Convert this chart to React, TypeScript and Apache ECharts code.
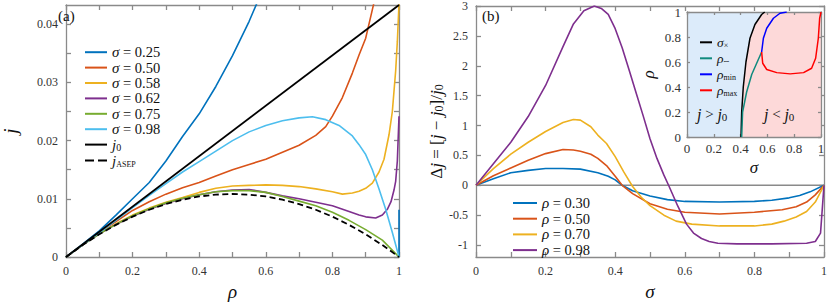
import React, { useEffect, useRef } from 'react';
import * as echarts from 'echarts';

// ---------- Panel (a): j vs rho ----------
const jMax = 0.0433;
const j0Line = [[0, 0], [1, 0.0433]];
const jAsep = [[0, 0], [0.05, 0.00206], [0.1, 0.0039], [0.15, 0.00552], [0.2, 0.00693], [0.25, 0.00812], [0.3, 0.0091], [0.35, 0.00985], [0.4, 0.0104], [0.45, 0.01072], [0.5, 0.01083], [0.55, 0.01072], [0.6, 0.0104], [0.65, 0.00985], [0.7, 0.0091], [0.75, 0.00812], [0.8, 0.00693], [0.85, 0.00552], [0.9, 0.0039], [0.95, 0.00206], [1, 0]];
const sig025 = [[0, 0], [0.05, 0.0022], [0.1, 0.0045], [0.15, 0.0072], [0.2, 0.0100], [0.25, 0.0128], [0.3, 0.0165], [0.35, 0.0207], [0.4, 0.0246], [0.45, 0.0293], [0.5, 0.0346], [0.55, 0.0405], [0.58, 0.0445], [0.6, 0.0475], '-', [1, 0.0081], [1, 0]];
const sig050 = [[0, 0], [0.05, 0.0021], [0.1, 0.0042], [0.15, 0.0061], [0.2, 0.0080], [0.25, 0.0095], [0.3, 0.0108], [0.35, 0.0119], [0.4, 0.0128], [0.45, 0.0139], [0.5, 0.0150], [0.55, 0.0159], [0.6, 0.0168], [0.65, 0.0180], [0.7, 0.0192], [0.75, 0.0209], [0.78, 0.0224], [0.8, 0.0242], [0.83, 0.0274], [0.86, 0.0316], [0.88, 0.0347], [0.9, 0.0376], [0.92, 0.0425], [0.93, 0.0450]];
const sig058 = [[0, 0], [0.05, 0.0021], [0.1, 0.0040], [0.15, 0.0057], [0.2, 0.0072], [0.25, 0.0084], [0.3, 0.0094], [0.35, 0.0102], [0.4, 0.0111], [0.45, 0.0118], [0.5, 0.0122], [0.55, 0.0123], [0.6, 0.0124], [0.65, 0.0123], [0.7, 0.0121], [0.75, 0.0117], [0.8, 0.0112], [0.83, 0.0108], [0.86, 0.0110], [0.88, 0.0113], [0.9, 0.0118], [0.92, 0.0127], [0.94, 0.0146], [0.955, 0.0168], [0.97, 0.0210], [0.98, 0.0250], [0.99, 0.0320], [0.995, 0.0370], [1, 0.0435]];
const sig062 = [[0, 0], [0.05, 0.0021], [0.1, 0.0040], [0.15, 0.0056], [0.2, 0.0070], [0.25, 0.0082], [0.3, 0.0092], [0.35, 0.0100], [0.4, 0.0107], [0.45, 0.0112], [0.5, 0.0115], [0.55, 0.0116], [0.6, 0.0111], [0.65, 0.0105], [0.7, 0.0100], [0.75, 0.0094], [0.8, 0.0088], [0.85, 0.0078], [0.88, 0.0072], [0.9, 0.0069], [0.93, 0.0067], [0.95, 0.0072], [0.965, 0.0082], [0.976, 0.0095], [0.985, 0.0115], [0.99, 0.0130], [0.995, 0.0165], [1, 0.0242]];
const sig075 = [[0, 0], [0.05, 0.0021], [0.1, 0.0040], [0.15, 0.0056], [0.2, 0.0071], [0.25, 0.0083], [0.3, 0.0093], [0.35, 0.0101], [0.4, 0.0107], [0.45, 0.0112], [0.5, 0.0114], [0.55, 0.0114], [0.6, 0.0111], [0.65, 0.0104], [0.7, 0.0096], [0.75, 0.0088], [0.8, 0.0077], [0.85, 0.0063], [0.9, 0.0047], [0.95, 0.0029], [1, 0]];
const sig098 = [[0, 0], [0.05, 0.0021], [0.1, 0.0042], [0.15, 0.0063], [0.2, 0.0085], [0.25, 0.0106], [0.3, 0.0126], [0.35, 0.0146], [0.4, 0.0164], [0.45, 0.0182], [0.5, 0.0200], [0.55, 0.0215], [0.6, 0.0226], [0.65, 0.0234], [0.7, 0.0239], [0.74, 0.0241], [0.78, 0.0236], [0.82, 0.0226], [0.86, 0.0208], [0.88, 0.0193], [0.9, 0.0176], [0.92, 0.0150], [0.94, 0.0117], [0.96, 0.0082], [0.98, 0.0042], [1, 0]];

// ---------- Panel (b): Delta j vs sigma ----------
const zeroLine = [[0, 0], [1, 0]];
const rho030 = [[0, 0], [0.05, 0.11], [0.1, 0.21], [0.15, 0.25], [0.2, 0.28], [0.25, 0.28], [0.3, 0.27], [0.35, 0.21], [0.38, 0.15], [0.4, 0.09], [0.42, 0.0], [0.45, -0.09], [0.5, -0.18], [0.55, -0.24], [0.6, -0.27], [0.7, -0.28], [0.8, -0.27], [0.85, -0.25], [0.9, -0.21], [0.93, -0.17], [0.96, -0.11], [1, 0]];
const rho050 = [[0, 0], [0.05, 0.16], [0.1, 0.29], [0.15, 0.42], [0.2, 0.53], [0.25, 0.60], [0.28, 0.59], [0.3, 0.57], [0.33, 0.52], [0.35, 0.45], [0.375, 0.33], [0.4, 0.15], [0.42, 0.0], [0.45, -0.14], [0.5, -0.31], [0.55, -0.40], [0.6, -0.45], [0.7, -0.48], [0.8, -0.45], [0.88, -0.41], [0.92, -0.36], [0.95, -0.28], [0.975, -0.16], [1, 0]];
const rho070 = [[0, 0], [0.05, 0.28], [0.1, 0.52], [0.15, 0.72], [0.2, 0.90], [0.25, 1.05], [0.28, 1.10], [0.3, 1.09], [0.33, 0.98], [0.35, 0.84], [0.375, 0.70], [0.4, 0.48], [0.425, 0.22], [0.45, -0.02], [0.475, -0.20], [0.5, -0.34], [0.54, -0.50], [0.575, -0.60], [0.62, -0.65], [0.7, -0.68], [0.8, -0.68], [0.85, -0.65], [0.885, -0.60], [0.92, -0.53], [0.95, -0.44], [0.975, -0.28], [1, 0]];
const rho098 = [[0, 0], [0.05, 0.36], [0.1, 0.72], [0.15, 1.15], [0.2, 1.67], [0.25, 2.32], [0.28, 2.70], [0.31, 2.92], [0.34, 3.0], [0.36, 2.96], [0.38, 2.86], [0.4, 2.62], [0.42, 2.30], [0.44, 1.93], [0.46, 1.55], [0.48, 1.17], [0.5, 0.78], [0.52, 0.45], [0.54, 0.17], [0.555, -0.02], [0.58, -0.35], [0.605, -0.65], [0.625, -0.80], [0.648, -0.89], [0.67, -0.94], [0.695, -0.97], [0.75, -0.98], [0.85, -0.98], [0.95, -0.97], [0.975, -0.94], [0.99, -0.80], [1, 0]];

// ---------- Inset: phase diagram ----------
const crossover = [[0.403, 0], [0.408, 0.2], [0.42, 0.4], [0.44, 0.6], [0.47, 0.79], [0.507, 0.9], [0.557, 0.98], [0.58, 1]];
const rhoTilde = [[0.408, 0], [0.415, 0.2], [0.445, 0.36], [0.483, 0.5], [0.52, 0.59], [0.557, 0.68]];
const rhoMin = [[0.557, 0.68], [0.57, 0.79], [0.595, 0.87], [0.645, 0.95], [0.694, 0.99], [0.744, 1.0]];
const rhoMaxCurve = [[0.557, 0.68], [0.565, 0.59], [0.595, 0.54], [0.67, 0.515], [0.77, 0.505], [0.87, 0.515], [0.93, 0.55], [0.96, 0.63], [0.98, 0.79], [0.99, 0.95], [1.0, 1.0]];

const ticks01 = [0, 0.1, 0.2, 0.3, 0.4, 0.5, 0.6, 0.7, 0.8, 0.9, 1];
const labels01 = [0, 0.2, 0.4, 0.6, 0.8, 1];
const jTicks = [0, 0.005, 0.01, 0.015, 0.02, 0.025, 0.03, 0.035, 0.04];
const jLabels = [0, 0.01, 0.02, 0.03, 0.04];
const dTicks = [-1, -0.5, 0, 0.5, 1, 1.5, 2, 2.5, 3];
const insetTicks = [0, 0.2, 0.4, 0.6, 0.8, 1];

const C = ['#0072BD', '#D95319', '#EDB120', '#7E2F8E', '#77AC30', '#4DBEEE'];
const SERIF = 'Liberation Serif';
const AX = { color: '#8a8a8a', width: 1.3 };
const LBL = { color: '#333', fontFamily: SERIF, fontSize: 12 };
const DASH_ICON = 'path://M0 0h9v2H0z M13 0h9v2h-9z';

function rich(lh: number, big: number, sub: number) {
  return {
    i: { fontFamily: SERIF, fontStyle: 'italic', fontSize: big + 0.5, color: '#111', lineHeight: lh },
    n: { fontFamily: SERIF, fontSize: big, color: '#111', lineHeight: lh },
    s: { fontFamily: SERIF, fontSize: sub, color: '#111', lineHeight: sub, verticalAlign: 'bottom' },
    sc: { fontFamily: SERIF, fontSize: sub - 2, color: '#111', lineHeight: sub - 2, verticalAlign: 'bottom' },
  };
}

const legendNames: Record<string, string> = {
  'σ = 0.25': '{i|σ}{n| = 0.25}',
  'σ = 0.50': '{i|σ}{n| = 0.50}',
  'σ = 0.58': '{i|σ}{n| = 0.58}',
  'σ = 0.62': '{i|σ}{n| = 0.62}',
  'σ = 0.75': '{i|σ}{n| = 0.75}',
  'σ = 0.98': '{i|σ}{n| = 0.98}',
  'j0': '{i|j}{s|0}',
  'jASEP': '{i|j}{sc|ASEP}',
  'ρ = 0.30': '{i|ρ}{n| = 0.30}',
  'ρ = 0.50': '{i|ρ}{n| = 0.50}',
  'ρ = 0.70': '{i|ρ}{n| = 0.70}',
  'ρ = 0.98': '{i|ρ}{n| = 0.98}',
  'σx': '{i|σ}{s|×}',
  'ρ~': '{i|ρ}{s|∼}',
  'ρmin': '{i|ρ}{s|min}',
  'ρmax': '{i|ρ}{s|max}',
};

function ln(name: string, data: any[], color: string, xi: number, yi: number, extra: any = {}) {
  return {
    type: 'line', name, data, xAxisIndex: xi, yAxisIndex: yi, symbol: 'none', clip: true,
    connectNulls: false, lineStyle: { color, width: 1.6, ...(extra.lineStyle || {}) },
    itemStyle: { color }, z: extra.z ?? 3, ...(extra.rest || {}),
  };
}

function xAx(gridIndex: number, pos: 'bottom' | 'top', opts: any) {
  return {
    type: 'value', gridIndex, position: pos, min: 0, max: 1,
    axisLine: { show: true, onZero: false, lineStyle: AX },
    axisTick: { show: true, inside: true, length: opts.tickLen ?? 5, lineStyle: AX, customValues: opts.ticks },
    axisLabel: pos === 'bottom' ? { ...LBL, fontSize: opts.fs ?? 12, margin: opts.margin ?? 8, customValues: opts.labels } : { show: false },
    splitLine: { show: false },
    ...(pos === 'bottom' && opts.name ? { name: opts.name, nameLocation: 'middle', nameGap: opts.nameGap, nameTextStyle: { fontFamily: SERIF, fontStyle: 'italic', fontSize: opts.nameSize ?? 19, color: '#111' } } : {}),
  };
}
function yAx(gridIndex: number, pos: 'left' | 'right', opts: any) {
  return {
    type: 'value', gridIndex, position: pos, min: opts.min, max: opts.max,
    axisLine: { show: true, onZero: false, lineStyle: AX },
    axisTick: { show: true, inside: true, length: opts.tickLen ?? 5, lineStyle: AX, customValues: opts.ticks },
    axisLabel: pos === 'left' ? { ...LBL, fontSize: opts.fs ?? 12, margin: opts.margin ?? 8, customValues: opts.labels } : { show: false },
    splitLine: { show: false },
    ...(pos === 'left' && opts.name ? { name: opts.name, nameLocation: 'middle', nameRotate: 90, nameGap: opts.nameGap, nameTextStyle: opts.nameStyle } : {}),
  };
}

export default function App() {
  const ref = useRef<HTMLDivElement>(null);
  useEffect(() => {
    if (!ref.current) return;
    const chart = echarts.init(ref.current, undefined, { renderer: 'svg' });
    const legendBase = {
      orient: 'vertical', itemWidth: 22, itemHeight: 2, icon: 'rect',
      formatter: (n: string) => legendNames[n] ?? n,
      textStyle: { fontFamily: SERIF, fontSize: 14.5, color: '#111', rich: rich(16, 14.5, 10) },
      selectedMode: false,
    };
    const jTextRich = {
      i: { fontFamily: SERIF, fontStyle: 'italic', fontSize: 16, fill: '#111', lineHeight: 16 },
      n: { fontFamily: SERIF, fontSize: 15, fill: '#111', lineHeight: 16 },
      s: { fontFamily: SERIF, fontSize: 11, fill: '#111', lineHeight: 11, verticalAlign: 'bottom' },
    };
    const option: any = {
      animation: false,
      backgroundColor: '#fff',
      grid: [
        { left: 52, right: 431, top: 5, bottom: 39 },
        { left: 476, right: 3, top: 5, bottom: 39 },
        { left: 687, right: 9, top: 12, bottom: 169, show: true, backgroundColor: '#FDD9D9', borderWidth: 0, z: 5 },
      ],
      xAxis: [
        xAx(0, 'bottom', { ticks: ticks01, labels: labels01, name: 'ρ', nameGap: 25 }),
        xAx(0, 'top', { ticks: ticks01 }),
        xAx(1, 'bottom', { ticks: ticks01, labels: labels01, name: 'σ', nameGap: 25 }),
        xAx(1, 'top', { ticks: ticks01 }),
        { ...xAx(2, 'bottom', { ticks: insetTicks, labels: insetTicks, fs: 13, margin: 5, tickLen: 3, name: 'σ', nameGap: 22, nameSize: 17 }), z: 6 },
        { ...xAx(2, 'top', { ticks: insetTicks, tickLen: 3 }), z: 6 },
      ],
      yAxis: [
        yAx(0, 'left', { min: 0, max: jMax, ticks: jTicks, labels: jLabels, name: 'j', nameGap: 46, nameStyle: { fontFamily: SERIF, fontStyle: 'italic', fontSize: 19, color: '#111' } }),
        yAx(0, 'right', { min: 0, max: jMax, ticks: jTicks }),
        yAx(1, 'left', {
          min: -1.2, max: 3, ticks: dTicks, labels: dTicks, name: '{n|Δ}{i|j}{n| = [}{i|j}{n| − }{i|j}{s|0}{n|]/}{i|j}{s|0}', nameGap: 30,
          nameStyle: { fontFamily: SERIF, fontSize: 17, color: '#111', rich: rich(18, 17, 12) },
        }),
        yAx(1, 'right', { min: -1.2, max: 3, ticks: dTicks }),
        { ...yAx(2, 'left', { min: 0, max: 1, ticks: insetTicks, labels: insetTicks, fs: 13, margin: 6, tickLen: 3, name: 'ρ', nameGap: 30, nameStyle: { fontFamily: SERIF, fontStyle: 'italic', fontSize: 17, color: '#111' } }), z: 6 },
        { ...yAx(2, 'right', { min: 0, max: 1, ticks: insetTicks, tickLen: 3 }), z: 6 },
      ],
      legend: [
        { ...legendBase, left: 80, top: 39.7, itemGap: 0.4,
          data: ['σ = 0.25', 'σ = 0.50', 'σ = 0.58', 'σ = 0.62', 'σ = 0.75', 'σ = 0.98', 'j0', { name: 'jASEP', icon: DASH_ICON }] },
        { ...legendBase, left: 508, top: 190.5, itemGap: 0.7, itemWidth: 24,
          data: ['ρ = 0.30', 'ρ = 0.50', 'ρ = 0.70', 'ρ = 0.98'] },
        { ...legendBase, left: 695, top: 30.3, itemGap: 2, itemWidth: 12, z: 10,
          textStyle: { ...legendBase.textStyle, fontSize: 13, rich: rich(14, 13, 8) },
          data: ['σx', 'ρ~', 'ρmin', 'ρmax'] },
      ],
      series: [
        ln('σ = 0.25', sig025, C[0], 0, 0),
        ln('σ = 0.50', sig050, C[1], 0, 0),
        ln('σ = 0.58', sig058, C[2], 0, 0),
        ln('σ = 0.62', sig062, C[3], 0, 0),
        ln('σ = 0.75', sig075, C[4], 0, 0),
        ln('σ = 0.98', sig098, C[5], 0, 0),
        ln('j0', j0Line, '#000', 0, 0, { lineStyle: { width: 1.8 } }),
        ln('jASEP', jAsep, '#000', 0, 0, { lineStyle: { width: 1.8, type: [6, 3.5] } }),

        ln('zero', zeroLine, '#8a8a8a', 2, 2, { z: 2, lineStyle: { width: 1.5 } }),
        ln('ρ = 0.30', rho030, C[0], 2, 2),
        ln('ρ = 0.50', rho050, C[1], 2, 2),
        ln('ρ = 0.70', rho070, C[2], 2, 2),
        ln('ρ = 0.98', rho098, C[3], 2, 2),

        ln('fill', [[0, 0], ...crossover], 'transparent', 4, 4, { z: 6, lineStyle: { width: 0 }, rest: { areaStyle: { color: '#DCEBFA', origin: 'end', opacity: 1 }, silent: true } }),
        ln('σx', crossover, '#000', 4, 4, { z: 7, lineStyle: { width: 1.5 } }),
        ln('ρ~', rhoTilde, '#108a7e', 4, 4, { z: 7, lineStyle: { width: 1.5 } }),
        ln('ρmin', rhoMin, '#0000ff', 4, 4, { z: 7, lineStyle: { width: 1.5 } }),
        ln('ρmax', rhoMaxCurve, '#ff0000', 4, 4, { z: 7, lineStyle: { width: 1.5 } }),
      ],
      graphic: [
        { type: 'text', left: 58, top: 8, z: 20, style: { text: '(a)', fontFamily: SERIF, fontSize: 15, fill: '#111' } },
        { type: 'text', left: 482, top: 8, z: 20, style: { text: '(b)', fontFamily: SERIF, fontSize: 15, fill: '#111' } },
        { type: 'text', left: 697, top: 106, z: 20, style: { text: '{i|j}{n| > }{i|j}{s|0}', rich: jTextRich } },
        { type: 'text', left: 764, top: 106, z: 20, style: { text: '{i|j}{n| < }{i|j}{s|0}', rich: jTextRich } },
      ],
    };
    chart.setOption(option);
    return () => chart.dispose();
  }, []);
  return <div ref={ref} style={{ position: 'absolute', left: 0, top: 0, width: 830, height: 306 }} />;
}
